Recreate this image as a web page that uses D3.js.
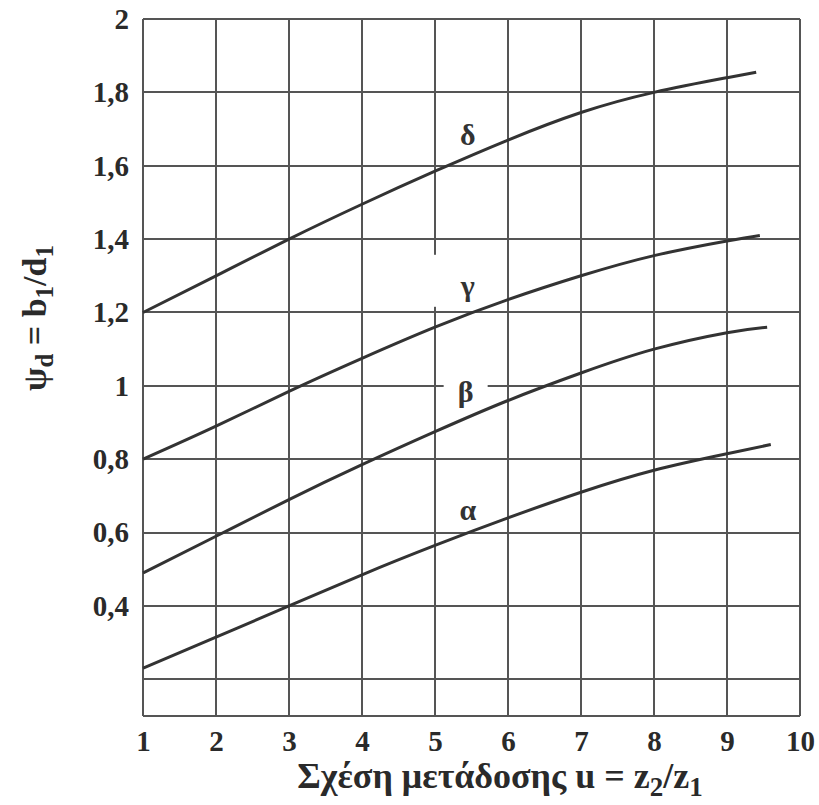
<!DOCTYPE html>
<meta charset="utf-8">
<style>
body { margin: 0; background: #fff; }
.grid line { stroke: #555; stroke-width: 2; shape-rendering: crispEdges; }
.curve { fill: none; stroke: #333; stroke-width: 3; }
.lbl { font-family: "Liberation Serif", "Times New Roman", "DejaVu Serif", serif; font-weight: bold; font-size: 30px; fill: #333; text-anchor: middle; }
.title { font-family: "Liberation Serif", "Times New Roman", "DejaVu Serif", serif; font-weight: bold; font-size: 36px; fill: #2a2a2a; }
</style>
<body>
<script src="https://cdn.jsdelivr.net/npm/d3@7"></script>
<script>

var uValues = [1, 2, 3, 4, 5, 6, 7, 8, 9];
var alpha = [0.23, 0.315, 0.40, 0.485, 0.565, 0.64, 0.71, 0.77, 0.815];
var beta  = [0.49, 0.59, 0.69, 0.785, 0.875, 0.96, 1.035, 1.10, 1.145];
var gamma = [0.80, 0.89, 0.985, 1.075, 1.16, 1.235, 1.30, 1.355, 1.395];
var delta = [1.20, 1.30, 1.40, 1.495, 1.585, 1.67, 1.745, 1.80, 1.84];
// last point of each curve (u, psi)
var curveEnds = [[9.6, 0.84], [9.55, 1.16], [9.45, 1.41], [9.4, 1.855]];
var curveNames = ["α", "β", "γ", "δ"];
var labelPos = [[5.45, 0.66], [5.42, 0.98], [5.45, 1.27], [5.45, 1.68]];

var xTicks = [1, 2, 3, 4, 5, 6, 7, 8, 9, 10];
var yTicks = [0.2, 0.4, 0.6, 0.8, 1, 1.2, 1.4, 1.6, 1.8, 2];
var yLabeled = [0.4, 0.6, 0.8, 1, 1.2, 1.4, 1.6, 1.8, 2];

var margin = {top: 19, left: 143},
    width = 657,
    height = 697;

var svg = d3.select("body").append("svg")
    .attr("width", 819).attr("height", 805);

var g = svg.append("g")
    .attr("transform", "translate(" + margin.left + "," + margin.top + ")");

var x = d3.scaleLinear().domain([1, 10]).range([0, width]);
var y = d3.scaleLinear().domain([0.1, 2]).range([height, 0]);

// grid
var grid = g.append("g").attr("class", "grid");
grid.selectAll(".v").data(xTicks).enter().append("line")
    .attr("x1", d => x(d)).attr("x2", d => x(d))
    .attr("y1", 0).attr("y2", height);
grid.selectAll(".h").data(yTicks.concat([0.1])).enter().append("line")
    .attr("x1", 0).attr("x2", width)
    .attr("y1", d => y(d)).attr("y2", d => y(d));

// axes (labels only)
var fmt = function(d) { return String(+d.toFixed(1)).replace(".", ","); };
var yAxis = g.append("g")
    .call(d3.axisLeft(y).tickValues(yLabeled).tickFormat(fmt).tickSize(0).tickPadding(14));
var xAxis = g.append("g")
    .attr("transform", "translate(0," + height + ")")
    .call(d3.axisBottom(x).tickValues(xTicks).tickSize(0).tickPadding(14));
yAxis.select(".domain").remove();
xAxis.select(".domain").remove();
[yAxis, xAxis].forEach(function(a) {
  a.attr("font-family", null).attr("font-size", null);
  a.selectAll("text")
    .style("font-family", '"Liberation Serif", "Times New Roman", "DejaVu Serif", serif')
    .style("font-weight", "bold")
    .style("font-size", "29px")
    .style("fill", "#2a2a2a");
});

// white patches behind β and γ labels (drawn under the curves)
curveNames.forEach(function(n, i) {
  var px = x(labelPos[i][0]), py = y(labelPos[i][1]);
  if (n === "β") {
    g.append("rect").attr("x", px - 22).attr("y", py - 20)
      .attr("width", 44).attr("height", 36).attr("fill", "#fff");
  }
  if (n === "γ") {
    g.append("rect").attr("x", px - 34).attr("y", py - 32)
      .attr("width", 70).attr("height", 52).attr("fill", "#fff");
  }
});

var series = [alpha, beta, gamma, delta];
var line = d3.line()
    .x(d => x(d[0])).y(d => y(d[1]))
    .curve(d3.curveNatural);

series.forEach(function(s, i) {
  var pts = uValues.map((u, j) => [u, s[j]]);
  pts.push(curveEnds[i]);
  g.append("path").attr("class", "curve").attr("d", line(pts));
});

curveNames.forEach(function(n, i) {
  g.append("text").attr("class", "lbl")
    .attr("x", x(labelPos[i][0])).attr("y", y(labelPos[i][1]) + 9).text(n);
});

// x title
var xt = svg.append("text").attr("class", "title")
    .attr("x", 500).attr("y", 788).attr("text-anchor", "middle");
xt.append("tspan").text("Σχέση μετάδοσης u = z");
xt.append("tspan").attr("dy", 8).style("font-size", "27px").text("2");
xt.append("tspan").attr("dy", -8).text("/z");
xt.append("tspan").attr("dy", 8).style("font-size", "27px").text("1");

// y title
var yt = svg.append("text").attr("class", "title")
    .attr("transform", "translate(46,318) rotate(-90)")
    .attr("text-anchor", "middle").style("font-size", "34px");
yt.append("tspan").text("ψ");
yt.append("tspan").attr("dy", 7).style("font-size", "25px").text("d");
yt.append("tspan").attr("dy", -7).text(" = b");
yt.append("tspan").attr("dy", 7).style("font-size", "25px").text("1");
yt.append("tspan").attr("dy", -7).text("/d");
yt.append("tspan").attr("dy", 7).style("font-size", "25px").text("1");

</script>
</body>
